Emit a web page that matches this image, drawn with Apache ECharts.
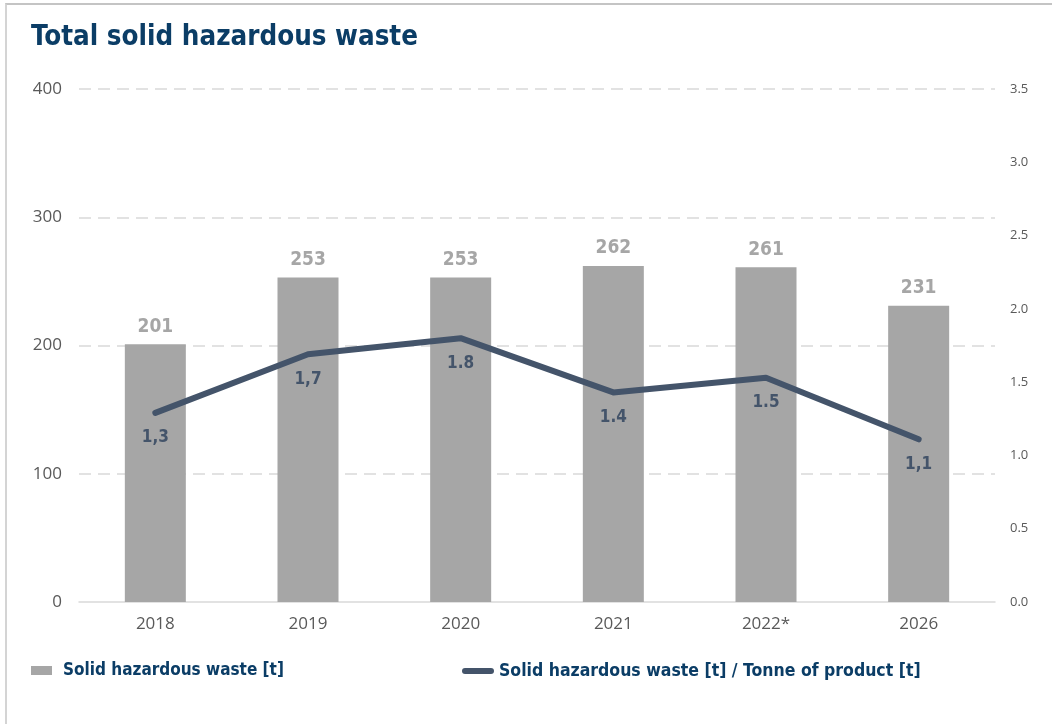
<!DOCTYPE html>
<html>
<head>
<meta charset="utf-8">
<script src="https://cdn.jsdelivr.net/npm/echarts@6/dist/echarts.min.js"></script>
<style>
  html, body { margin: 0; padding: 0; background: #fff; }
  #frame { position: absolute; left: 5px; top: 3px; width: 1200px; height: 900px;
           border-top: 2px solid #c4c4c4; border-left: 2px solid #d4d4d4; }
  #chart { position: absolute; left: 0; top: 0; width: 1052px; height: 724px; }
</style>
</head>
<body>
<div id="frame"></div>
<div id="chart"></div>
<script>
// data
var years = ["2018", "2019", "2020", "2021", "2022*", "2026"];
var wasteTonnes = [201, 253, 253, 262, 261, 231];
var wastePerTonne = [1.29, 1.69, 1.80, 1.43, 1.53, 1.11];
var perTonneLabels = ["1,3", "1,7", "1.8", "1.4", "1.5", "1,1"];

var barName = "Solid hazardous waste [t]";
var lineName = "Solid hazardous waste [t] / Tonne of product [t]";

var navy = "#0b3d66";
var slate = "#44546a";
var axisFont = "'Open Sans', sans-serif";
var boldFont = "'DejaVu Sans Condensed', 'DejaVu Sans', sans-serif";

var chart = echarts.init(document.getElementById("chart"));

var option = {
  backgroundColor: "transparent",
  animation: false,
  title: {
    text: "Total solid hazardous waste",
    left: 26,
    top: 19,
    textStyle: { color: navy, fontSize: 27.5, fontWeight: "bold", fontFamily: boldFont }
  },
  legend: [
    {
      data: [{ name: barName, icon: "rect" }],
      left: 26,
      top: 657,
      itemWidth: 21,
      itemHeight: 9,
      itemGap: 0,
      textStyle: { color: navy, fontSize: 17, fontWeight: "bold", fontFamily: boldFont, padding: [0, 0, 0, 6] }
    },
    {
      data: [{ name: lineName, icon: "path://M3,0 L29,0 A3,3 0 0 1 29,6 L3,6 A3,3 0 0 1 3,0 Z" }],
      left: 457,
      top: 657,
      itemWidth: 32,
      itemHeight: 7,
      textStyle: { color: navy, fontSize: 17.5, fontWeight: "bold", fontFamily: boldFont }
    }
  ],
  grid: { left: 79, right: 57, top: 89, bottom: 122 },
  xAxis: {
    type: "category",
    data: years,
    axisLine: { show: true, lineStyle: { color: "#d9d9d9", width: 1.5 } },
    axisTick: { show: false },
    axisLabel: { color: "#595959", fontSize: 17, fontFamily: axisFont, margin: 14 }
  },
  yAxis: [
    {
      type: "value",
      min: 0,
      max: 400,
      interval: 100,
      axisLine: { show: false },
      axisTick: { show: false },
      axisLabel: { color: "#595959", fontSize: 17, fontFamily: axisFont, margin: 17 },
      splitLine: {
        show: true,
        showMinLine: false,
        lineStyle: { color: "#d9d9d9", width: 1.5, type: [12, 7] }
      }
    },
    {
      type: "value",
      min: 0,
      max: 3.5,
      interval: 0.5,
      axisLine: { show: false },
      axisTick: { show: false },
      splitLine: { show: false },
      axisLabel: {
        color: "#595959",
        fontSize: 13,
        fontFamily: axisFont,
        margin: 15,
        formatter: function (v) { return v.toFixed(1); }
      }
    }
  ],
  series: [
    {
      name: barName,
      type: "bar",
      data: wasteTonnes,
      barWidth: 61,
      itemStyle: { color: "#a6a6a6" },
      label: {
        show: true,
        position: "top",
        distance: 8,
        color: "#a6a6a6",
        fontSize: 19,
        fontWeight: "bold",
        fontFamily: boldFont
      }
    },
    {
      name: lineName,
      type: "line",
      yAxisIndex: 1,
      data: wastePerTonne,
      symbol: "circle",
      symbolSize: 1,
      showSymbol: true,
      lineStyle: { color: slate, width: 6, cap: "round", join: "round" },
      itemStyle: { color: slate },
      label: {
        show: true,
        position: "bottom",
        distance: 16,
        color: slate,
        fontSize: 17,
        fontWeight: "bold",
        fontFamily: boldFont,
        formatter: function (p) { return perTonneLabels[p.dataIndex]; }
      }
    }
  ]
};

chart.setOption(option);
</script>
</body>
</html>
